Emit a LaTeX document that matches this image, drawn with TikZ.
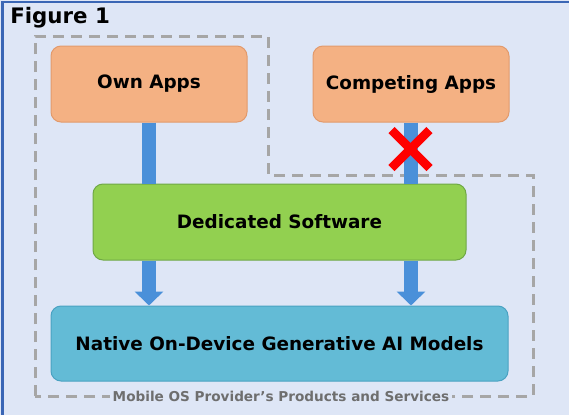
\documentclass[tikz,border=0pt]{standalone}
\usepackage{fontspec}
\setmainfont{DejaVu Sans}
\usetikzlibrary{arrows.meta,calc}
\definecolor{bgblue}{HTML}{DEE6F6}
\definecolor{framecol}{HTML}{3A66B5}
\definecolor{orangefill}{HTML}{F4B183}
\definecolor{orangeline}{HTML}{E29A6C}
\definecolor{greenfill}{HTML}{92D050}
\definecolor{greenline}{HTML}{6FA846}
\definecolor{tealfill}{HTML}{63BBD6}
\definecolor{tealline}{HTML}{4AA2C2}
\definecolor{flowblue}{HTML}{4A90D9}
\definecolor{dashgray}{HTML}{A6A6A6}
\definecolor{labelgray}{HTML}{6E6E6E}
\definecolor{crossred}{HTML}{FF0000}
\newlength\pxl
\setlength\pxl{0.75pt}
\begin{document}
\begin{tikzpicture}[x=0.75pt,y=-0.75pt,
  box/.style={draw, line width=1\pxl, rounded corners=10\pxl, inner sep=0pt,
    font=\bfseries\fontsize{13.8pt}{16pt}\selectfont, text=black},
  appbox/.style={box, fill=orangefill, draw=orangeline, minimum width=196\pxl, minimum height=76\pxl},
  flow/.style={flowblue, line width=14\pxl},
  flowarrow/.style={flow, -{Triangle[width=21pt, length=10.5pt]}},
  cross/.style={crossred, line width=8.5\pxl},
  scopeline/.style={dashgray, line width=3\pxl, dash pattern=on 8.25pt off 5.25pt}
]
\fill[bgblue] (0,0) rectangle (569,415);
\useasboundingbox (0,0) rectangle (569,415);
% frame edges
\draw[framecol, line width=2\pxl] (2.5,415) -- (2.5,2) -- (569,2);

% title
\node[anchor=west, font=\bfseries\fontsize{16pt}{19pt}\selectfont, inner sep=0pt] (title) at (10,18) {Figure 1};

% scope of the provider's products and services
\draw[scopeline] (35,396) -- (35,36) -- (268,36) -- (268,175) -- (533,175) -- (533,396) -- cycle;
\node[fill=bgblue, text=labelgray, inner sep=3\pxl, font=\bfseries\fontsize{10.2pt}{12pt}\selectfont] (scope) at (281,396) {Mobile OS Provider’s Products and Services};

% boxes
\node[appbox] (own) at (149,84) {Own Apps};
\node[appbox] (comp) at (411,84) {Competing Apps};
\node[box, fill=greenfill, draw=greenline, minimum width=373\pxl, minimum height=76\pxl] (ded) at (279.5,222) {Dedicated Software};
\node[box, fill=tealfill, draw=tealline, minimum width=457\pxl, minimum height=75\pxl] (nat) at (279.5,343.5) {Native On-Device Generative AI Models};

% flows
\draw[flow] (own.south) -- (own.south |- ded.north);
\draw[flow] (comp.south) -- (comp.south |- ded.north);
\draw[flowarrow] (own.south |- ded.south) -- (own.south |- nat.north);
\draw[flowarrow] (comp.south |- ded.south) -- (comp.south |- nat.north);

% blocked access
\coordinate (block) at (410.5,149);
\draw[cross] ($(block)+(-19,-19)$) -- ($(block)+(19,19)$);
\draw[cross] ($(block)+(-19,19)$) -- ($(block)+(19,-19)$);
\end{tikzpicture}
\end{document}
